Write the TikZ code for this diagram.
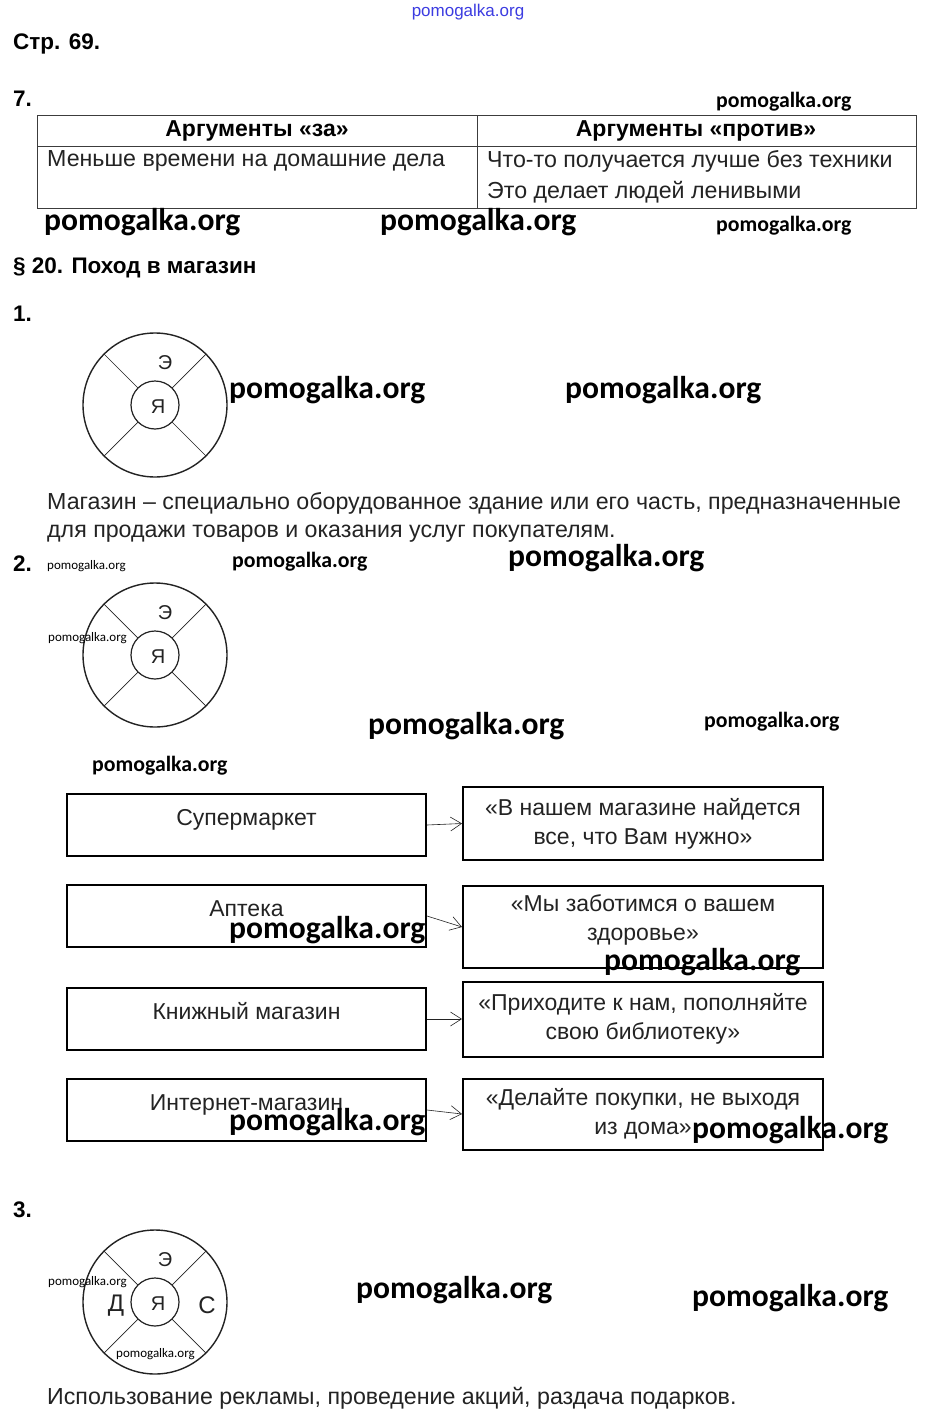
\documentclass[tikz,border=0pt]{standalone}
\usepackage{fontspec}
\setmainfont{Liberation Sans}
\newfontfamily\wmfont{Carlito}
\usetikzlibrary{arrows.meta,positioning}
\definecolor{inkgray}{RGB}{35,35,35}
\definecolor{rulegray}{RGB}{60,60,60}
\definecolor{markblue}{RGB}{60,60,225}

\begin{document}
\begin{tikzpicture}[x=1pt, y=-1pt,
    txt/.style={anchor=west, inner sep=0pt, text=inkgray, font=\fontsize{23.2}{30}\selectfont},
    head/.style={anchor=west, inner sep=0pt, text=black, font=\bfseries\fontsize{22.5}{26}\selectfont},
    th/.style={inner sep=0pt, text=black, font=\bfseries\fontsize{23}{27}\selectfont},
    letter/.style={inner sep=0pt, text=inkgray, font=\fontsize{20}{20}\selectfont},
    wmbig/.style={anchor=west, inner sep=0pt, text=black, font=\wmfont\bfseries\fontsize{31.6}{32}\selectfont},
    wmmid/.style={wmbig, font=\wmfont\bfseries\fontsize{21.8}{22}\selectfont},
    wmsmall/.style={wmbig, font=\wmfont\fontsize{13}{13}\selectfont},
    lbox/.style={draw=black, line width=2pt, minimum width=359pt, minimum height=62pt, inner sep=0pt,
                text height=16pt, text depth=16pt, text=inkgray, font=\fontsize{23}{29}\selectfont},
    rbox/.style={draw=black, line width=2pt, minimum width=360pt, inner sep=0pt, align=center,
                text=inkgray, font=\fontsize{23}{29}\selectfont},
    arr/.style={-{Straight Barb[length=11pt, width=14pt]}, line width=0.6pt, inkgray}]
\fill[white] (0,0) rectangle (934,1426);
\useasboundingbox (0,0) rectangle (934,1426);
% heading and task 7
\node[inner sep=0pt, text=markblue, font=\fontsize{17}{17}\selectfont] (wm0) at (468,12) {pomogalka.org};
\node[head] (page) at (13,44) {Стр. 69.};
\node[head] (n7) at (13,99) {7.};
\node[wmmid] (wm1) at (716,102) {pomogalka.org};
\draw[rulegray, line width=1pt] (37,116) rectangle (916,208);
\draw[rulegray, line width=1pt] (37,146) -- (916,146) (477,116) -- (477,208);
\node[th] (proh) at (257,131) {Аргументы «за»};
\node[th] (contrah) at (696,131) {Аргументы «против»};
\node[txt] (pro1) at (47,161) {Меньше времени на домашние дела};
\node[txt] (contra1) at (487,161) {Что-то получается лучше без техники};
\node[txt] (contra2) at (487,192) {Это делает людей ленивыми};
\node[wmbig] (wm2) at (44,222) {pomogalka.org};
\node[wmbig] (wm3) at (380,222) {pomogalka.org};
\node[wmmid] (wm4) at (716,226) {pomogalka.org};
% section 20
\node[head] (par) at (13,268) {§ 20. Поход в магазин};
\node[head] (n1) at (13,314) {1.};
\node[head] (n2) at (13,564) {2.};
\node[head] (n3) at (13,1210) {3.};
% circles
\foreach \cy/\nm in {405/a, 655/b, 1302/c}{
  \draw[inkgray, line width=1.4pt] (155,\cy) circle (72pt);
  \draw[inkgray, line width=1.2pt] (155,\cy) circle (24pt);
  \foreach \ang in {45,135,225,315}
    \draw[inkgray, line width=0.7pt] (155,\cy) ++(\ang:24pt) -- ++(\ang:48pt);
  \node[letter] (e\nm) at (165,{\cy-42}) {Э};
  \node[letter] (ya\nm) at (158,{\cy+2}) {Я};
}
\node[letter, font=\fontsize{24}{24}\selectfont] (dc) at (116,1306) {Д};
\node[letter, font=\fontsize{24}{24}\selectfont] (sc) at (207,1305) {С};
\node[wmbig] (wm5) at (229,390) {pomogalka.org};
\node[wmbig] (wm6) at (565,390) {pomogalka.org};
\node[txt] (def1) at (47,503) {Магазин – специально оборудованное здание или его часть, предназначенные};
\node[txt] (def2) at (47,534) {для продажи товаров и оказания услуг покупателям.};
\node[wmsmall] (wm7) at (47,566) {pomogalka.org};
\node[wmmid] (wm8) at (232,562) {pomogalka.org};
\node[wmbig] (wm9) at (508,558) {pomogalka.org};
\node[wmsmall] (wm10) at (48,638) {pomogalka.org};
\node[wmbig] (wm11) at (368,726) {pomogalka.org};
\node[wmmid] (wm12) at (704,722) {pomogalka.org};
\node[wmmid] (wm13) at (92,766) {pomogalka.org};
% shops and slogans
\node[lbox] (sup) at (246.5,825) {Супермаркет};
\node[lbox, below=27pt of sup] (apt) {Аптека};
\node[lbox, below=39pt of apt] (book) {Книжный магазин};
\node[lbox, below=27pt of book] (net) {Интернет-магазин};
\node[rbox, minimum height=73pt, right=35pt of sup, yshift=1.5pt] (q1) {«В нашем магазине найдется\\все, что Вам нужно»};
\node[rbox, minimum height=82pt, right=35pt of apt, yshift=-11pt, text depth=18pt] (q2) {«Мы заботимся о вашем\\здоровье»};
\node[rbox, minimum height=75pt, right=35pt of book] (q3) {«Приходите к нам, пополняйте\\свою библиотеку»};
\node[rbox, minimum height=71pt, right=35pt of net, yshift=-4pt] (q4) {«Делайте покупки, не выходя\\из дома»};
\draw[arr] (sup.east) -- (q1.west);
\draw[arr] (apt.east) -- (q2.west);
\draw[arr] (book.east) -- (q3.west);
\draw[arr] (net.east) -- (q4.west);
\node[wmbig] (wm14) at (229,930) {pomogalka.org};
\node[wmbig] (wm15) at (604,962) {pomogalka.org};
\node[wmbig] (wm16) at (229,1122) {pomogalka.org};
\node[wmbig] (wm17) at (692,1130) {pomogalka.org};
% task 3
\node[wmsmall] (wm18) at (48,1282) {pomogalka.org};
\node[wmsmall] (wm19) at (116,1354) {pomogalka.org};
\node[wmbig] (wm20) at (356,1290) {pomogalka.org};
\node[wmbig] (wm21) at (692,1298) {pomogalka.org};
\node[txt] (ans3) at (47,1398) {Использование рекламы, проведение акций, раздача подарков.};
\end{tikzpicture}
\end{document}
